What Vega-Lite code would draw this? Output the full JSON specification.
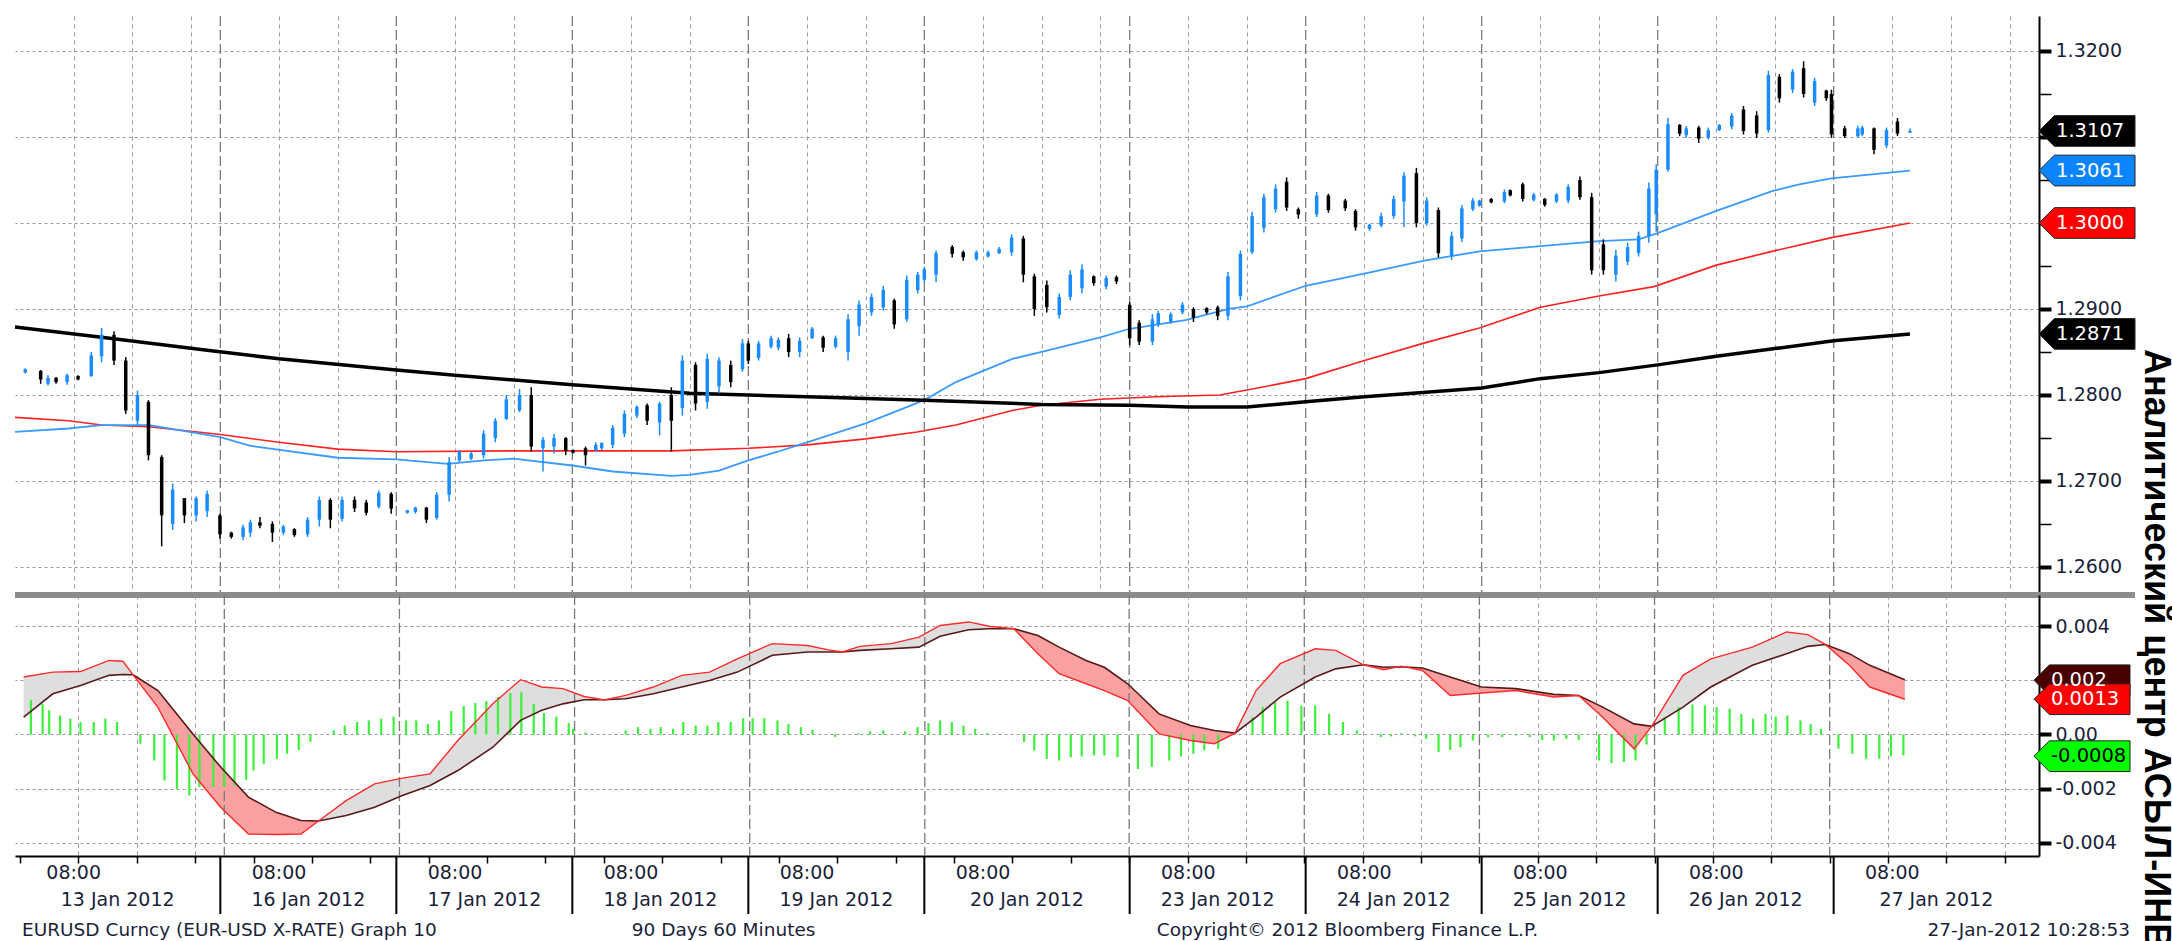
{
"padding": {"left": 8, "top": 15, "right": 0, "bottom": 0},
"autosize": {"type": "pad"},
"background": "white",
"config": {"view": {"stroke": null}, "font": "DejaVu Sans", "axis": {"labelFont": "DejaVu Sans", "labelFontSize": 19, "labelColor": "#1b1f3b", "title": null}},
"spacing": 0,
"bounds": "flush",
"datasets": {
"days": [{"d":"13 Jan 2012","s":0,"e":8,"m":14},{"d":"16 Jan 2012","s":28,"e":36,"m":40},{"d":"17 Jan 2012","s":52,"e":60,"m":64},{"d":"18 Jan 2012","s":76,"e":84,"m":88},{"d":"19 Jan 2012","s":100,"e":108,"m":112},{"d":"20 Jan 2012","s":124,"e":132,"m":138},{"d":"23 Jan 2012","s":152,"e":160,"m":164},{"d":"24 Jan 2012","s":176,"e":184,"m":188},{"d":"25 Jan 2012","s":200,"e":208,"m":212},{"d":"26 Jan 2012","s":224,"e":232,"m":236},{"d":"27 Jan 2012","s":248,"e":256,"m":262}],
"candles": [
{"h":1.4,"o":1.2826,"hi":1.2831,"lo":1.2825,"c":1.2830},{"h":3.5,"o":1.2828,"hi":1.2829,"lo":1.2813,"c":1.2818},{"h":4.5,"o":1.2813,"hi":1.2823,"lo":1.2811,"c":1.2820},{"h":5.6,"o":1.2820,"hi":1.2821,"lo":1.2813,"c":1.2815},{"h":7.1,"o":1.2815,"hi":1.2825,"lo":1.2812,"c":1.2823},{"h":8.6,"o":1.2822,"hi":1.2823,"lo":1.2817,"c":1.2818},{"h":10.4,"o":1.2822,"hi":1.2850,"lo":1.2821,"c":1.2846},{"h":11.8,"o":1.2845,"hi":1.2878,"lo":1.2838,"c":1.2870},{"h":13.5,"o":1.2870,"hi":1.2874,"lo":1.2835,"c":1.2840},{"h":15.1,"o":1.2840,"hi":1.2844,"lo":1.2778,"c":1.2782},{"h":16.7,"o":1.2770,"hi":1.2805,"lo":1.2765,"c":1.2800},{"h":18.2,"o":1.2792,"hi":1.2794,"lo":1.2724,"c":1.2730},{"h":20.0,"o":1.2728,"hi":1.2730,"lo":1.2624,"c":1.2660},{"h":21.5,"o":1.2650,"hi":1.2697,"lo":1.2643,"c":1.2690},{"h":23.1,"o":1.2680,"hi":1.2680,"lo":1.2651,"c":1.2660},{"h":24.7,"o":1.2660,"hi":1.2682,"lo":1.2653,"c":1.2680},{"h":26.2,"o":1.2665,"hi":1.2689,"lo":1.2658,"c":1.2685},{"h":27.95,"o":1.2660,"hi":1.2662,"lo":1.2633,"c":1.2638},{"h":29.5,"o":1.2640,"hi":1.2641,"lo":1.2633,"c":1.2635},{"h":31.1,"o":1.2635,"hi":1.2649,"lo":1.2631,"c":1.2646},{"h":32.1,"o":1.2640,"hi":1.2655,"lo":1.2635,"c":1.2652},{"h":33.4,"o":1.2652,"hi":1.2658,"lo":1.2645,"c":1.2648},{"h":35.1,"o":1.2650,"hi":1.2653,"lo":1.2629,"c":1.2640},{"h":36.6,"o":1.2640,"hi":1.2649,"lo":1.2637,"c":1.2647},{"h":38.1,"o":1.2644,"hi":1.2645,"lo":1.2635,"c":1.2637},{"h":39.9,"o":1.2638,"hi":1.2658,"lo":1.2635,"c":1.2655},{"h":41.5,"o":1.2655,"hi":1.2682,"lo":1.2647,"c":1.2678},{"h":43.0,"o":1.2678,"hi":1.2680,"lo":1.2645,"c":1.2655},{"h":44.6,"o":1.2656,"hi":1.2682,"lo":1.2653,"c":1.2678},{"h":46.3,"o":1.2678,"hi":1.2682,"lo":1.2664,"c":1.2668},{"h":47.9,"o":1.2675,"hi":1.2678,"lo":1.2660,"c":1.2663},{"h":49.6,"o":1.2670,"hi":1.2689,"lo":1.2668,"c":1.2686},{"h":51.3,"o":1.2685,"hi":1.2687,"lo":1.2662,"c":1.2668},{"h":53.5,"o":1.2663,"hi":1.2666,"lo":1.2662,"c":1.2666},{"h":54.6,"o":1.2664,"hi":1.2670,"lo":1.2662,"c":1.2669},{"h":56.1,"o":1.2669,"hi":1.2670,"lo":1.2651,"c":1.2655},{"h":57.5,"o":1.2657,"hi":1.2687,"lo":1.2655,"c":1.2684},{"h":59.2,"o":1.2684,"hi":1.2728,"lo":1.2676,"c":1.2722},{"h":60.6,"o":1.2724,"hi":1.2736,"lo":1.2722,"c":1.2734},{"h":62.2,"o":1.2726,"hi":1.2734,"lo":1.2724,"c":1.2732},{"h":63.9,"o":1.2730,"hi":1.2759,"lo":1.2726,"c":1.2755},{"h":65.5,"o":1.2750,"hi":1.2773,"lo":1.2745,"c":1.2770},{"h":67.0,"o":1.2772,"hi":1.2800,"lo":1.2771,"c":1.2795},{"h":68.8,"o":1.2782,"hi":1.2807,"lo":1.2780,"c":1.2800},{"h":70.4,"o":1.2800,"hi":1.2809,"lo":1.2734,"c":1.2740},{"h":72.0,"o":1.2738,"hi":1.2751,"lo":1.2711,"c":1.2748},{"h":73.5,"o":1.2740,"hi":1.2755,"lo":1.2732,"c":1.2750},{"h":75.1,"o":1.2750,"hi":1.2751,"lo":1.2730,"c":1.2735},{"h":76.1,"o":1.2736,"hi":1.2737,"lo":1.2732,"c":1.2733},{"h":77.8,"o":1.2738,"hi":1.2740,"lo":1.2718,"c":1.2730},{"h":79.2,"o":1.2736,"hi":1.2745,"lo":1.2734,"c":1.2742},{"h":80.0,"o":1.2738,"hi":1.2745,"lo":1.2736,"c":1.2744},{"h":81.5,"o":1.2742,"hi":1.2765,"lo":1.2738,"c":1.2762},{"h":83.1,"o":1.2755,"hi":1.2782,"lo":1.2751,"c":1.2778},{"h":84.8,"o":1.2776,"hi":1.2788,"lo":1.2773,"c":1.2786},{"h":86.2,"o":1.2788,"hi":1.2790,"lo":1.2765,"c":1.2770},{"h":87.9,"o":1.2768,"hi":1.2792,"lo":1.2753,"c":1.2790},{"h":89.5,"o":1.2800,"hi":1.2809,"lo":1.2734,"c":1.2770},{"h":91.0,"o":1.2785,"hi":1.2846,"lo":1.2776,"c":1.2840},{"h":92.8,"o":1.2835,"hi":1.2838,"lo":1.2782,"c":1.2790},{"h":94.4,"o":1.2792,"hi":1.2848,"lo":1.2784,"c":1.2842},{"h":96.0,"o":1.2810,"hi":1.2844,"lo":1.2802,"c":1.2840},{"h":97.6,"o":1.2835,"hi":1.2840,"lo":1.2809,"c":1.2815},{"h":99.2,"o":1.2830,"hi":1.2865,"lo":1.2827,"c":1.2860},{"h":100.0,"o":1.2860,"hi":1.2863,"lo":1.2836,"c":1.2840},
{"h":101.4,"o":1.2843,"hi":1.2863,"lo":1.2840,"c":1.2860},{"h":103.1,"o":1.2856,"hi":1.2869,"lo":1.2854,"c":1.2866},{"h":104.1,"o":1.2855,"hi":1.2867,"lo":1.2852,"c":1.2864},{"h":105.5,"o":1.2866,"hi":1.2871,"lo":1.2844,"c":1.2850},{"h":107.0,"o":1.2850,"hi":1.2867,"lo":1.2844,"c":1.2863},{"h":108.7,"o":1.2866,"hi":1.2879,"lo":1.2865,"c":1.2877},{"h":110.2,"o":1.2867,"hi":1.2869,"lo":1.2850,"c":1.2855},{"h":111.9,"o":1.2856,"hi":1.2869,"lo":1.2854,"c":1.2866},{"h":113.6,"o":1.2850,"hi":1.2894,"lo":1.2840,"c":1.2888},{"h":115.1,"o":1.2880,"hi":1.2910,"lo":1.2869,"c":1.2905},{"h":116.8,"o":1.2896,"hi":1.2918,"lo":1.2892,"c":1.2914},{"h":118.4,"o":1.2902,"hi":1.2927,"lo":1.2898,"c":1.2922},{"h":119.9,"o":1.2910,"hi":1.2912,"lo":1.2877,"c":1.2882},{"h":121.6,"o":1.2888,"hi":1.2939,"lo":1.2885,"c":1.2934},{"h":123.1,"o":1.2922,"hi":1.2943,"lo":1.2918,"c":1.2940},{"h":124.0,"o":1.2934,"hi":1.2949,"lo":1.2931,"c":1.2946},{"h":125.6,"o":1.2940,"hi":1.2968,"lo":1.2931,"c":1.2965},{"h":127.8,"o":1.2972,"hi":1.2974,"lo":1.2960,"c":1.2964},{"h":129.3,"o":1.2966,"hi":1.2968,"lo":1.2956,"c":1.2960},{"h":131.1,"o":1.2958,"hi":1.2968,"lo":1.2956,"c":1.2966},{"h":132.7,"o":1.2961,"hi":1.2968,"lo":1.2960,"c":1.2966},{"h":134.2,"o":1.2965,"hi":1.2972,"lo":1.2964,"c":1.2970},{"h":135.9,"o":1.2966,"hi":1.2987,"lo":1.2962,"c":1.2983},{"h":137.5,"o":1.2982,"hi":1.2985,"lo":1.2931,"c":1.2940},{"h":139.0,"o":1.2938,"hi":1.2941,"lo":1.2892,"c":1.2900},{"h":140.7,"o":1.2928,"hi":1.2933,"lo":1.2896,"c":1.2902},{"h":142.4,"o":1.2893,"hi":1.2918,"lo":1.2889,"c":1.2914},{"h":143.9,"o":1.2914,"hi":1.2945,"lo":1.2910,"c":1.2940},{"h":145.5,"o":1.2924,"hi":1.2952,"lo":1.2918,"c":1.2946},{"h":147.1,"o":1.2938,"hi":1.2939,"lo":1.2927,"c":1.2930},{"h":148.8,"o":1.2926,"hi":1.2939,"lo":1.2923,"c":1.2936},{"h":150.2,"o":1.2937,"hi":1.2939,"lo":1.2929,"c":1.2932},{"h":152.0,"o":1.2905,"hi":1.2908,"lo":1.2858,"c":1.2866},{"h":153.3,"o":1.2884,"hi":1.2887,"lo":1.2858,"c":1.2862},{"h":155.1,"o":1.2862,"hi":1.2894,"lo":1.2858,"c":1.2888},{"h":155.9,"o":1.2882,"hi":1.2898,"lo":1.2879,"c":1.2895},{"h":157.6,"o":1.2885,"hi":1.2896,"lo":1.2883,"c":1.2894},{"h":159.2,"o":1.2896,"hi":1.2908,"lo":1.2894,"c":1.2905},{"h":160.7,"o":1.2900,"hi":1.2902,"lo":1.2885,"c":1.2890},{"h":162.5,"o":1.2901,"hi":1.2902,"lo":1.2894,"c":1.2896},{"h":164.0,"o":1.2902,"hi":1.2904,"lo":1.2887,"c":1.2892},{"h":165.4,"o":1.2892,"hi":1.2943,"lo":1.2887,"c":1.2938},{"h":167.1,"o":1.2915,"hi":1.2968,"lo":1.2910,"c":1.2964},{"h":168.7,"o":1.2966,"hi":1.3013,"lo":1.2964,"c":1.3008},{"h":170.3,"o":1.2994,"hi":1.3034,"lo":1.2989,"c":1.3030},{"h":171.9,"o":1.3016,"hi":1.3045,"lo":1.3012,"c":1.3040},{"h":173.4,"o":1.3048,"hi":1.3053,"lo":1.3014,"c":1.3018},{"h":175.0,"o":1.3016,"hi":1.3018,"lo":1.3005,"c":1.3010},{"h":177.5,"o":1.3010,"hi":1.3036,"lo":1.3007,"c":1.3032},{"h":179.1,"o":1.3032,"hi":1.3034,"lo":1.3012,"c":1.3015},{"h":181.4,"o":1.3026,"hi":1.3028,"lo":1.3014,"c":1.3017},{"h":182.8,"o":1.3014,"hi":1.3016,"lo":1.2991,"c":1.2995},{"h":184.7,"o":1.2993,"hi":1.2999,"lo":1.2991,"c":1.2998},{"h":186.3,"o":1.2997,"hi":1.3012,"lo":1.2995,"c":1.3008},{"h":188.0,"o":1.3008,"hi":1.3032,"lo":1.3005,"c":1.3028},{"h":189.4,"o":1.3025,"hi":1.3059,"lo":1.2995,"c":1.3055},{"h":191.1,"o":1.3058,"hi":1.3064,"lo":1.2995,"c":1.3000},{"h":192.5,"o":1.3000,"hi":1.3030,"lo":1.2997,"c":1.3026},{"h":194.1,"o":1.3015,"hi":1.3018,"lo":1.2960,"c":1.2965},
{"h":195.9,"o":1.2962,"hi":1.2990,"lo":1.2957,"c":1.2985},{"h":197.3,"o":1.2982,"hi":1.3021,"lo":1.2978,"c":1.3017},{"h":198.8,"o":1.3016,"hi":1.3029,"lo":1.3014,"c":1.3026},{"h":199.7,"o":1.3020,"hi":1.3027,"lo":1.3019,"c":1.3026},{"h":201.3,"o":1.3028,"hi":1.3029,"lo":1.3023,"c":1.3024},{"h":203.1,"o":1.3025,"hi":1.3039,"lo":1.3023,"c":1.3036},{"h":203.9,"o":1.3038,"hi":1.3039,"lo":1.3031,"c":1.3032},{"h":205.6,"o":1.3045,"hi":1.3047,"lo":1.3025,"c":1.3028},{"h":207.1,"o":1.3027,"hi":1.3035,"lo":1.3025,"c":1.3033},{"h":208.6,"o":1.3028,"hi":1.3029,"lo":1.3019,"c":1.3021},{"h":210.2,"o":1.3025,"hi":1.3035,"lo":1.3023,"c":1.3033},{"h":211.8,"o":1.3026,"hi":1.3045,"lo":1.3023,"c":1.3042},{"h":213.4,"o":1.3050,"hi":1.3054,"lo":1.3027,"c":1.3030},{"h":215.0,"o":1.3030,"hi":1.3035,"lo":1.2940,"c":1.2945},{"h":216.6,"o":1.2975,"hi":1.2981,"lo":1.2940,"c":1.2945},{"h":218.3,"o":1.2940,"hi":1.2969,"lo":1.2932,"c":1.2962},{"h":219.9,"o":1.2955,"hi":1.2977,"lo":1.2951,"c":1.2972},{"h":221.4,"o":1.2965,"hi":1.2990,"lo":1.2961,"c":1.2985},{"h":222.8,"o":1.2985,"hi":1.3047,"lo":1.2977,"c":1.3040},{"h":223.8,"o":1.3010,"hi":1.3068,"lo":1.2990,"c":1.3062},{"h":225.4,"o":1.3062,"hi":1.3122,"lo":1.3060,"c":1.3115},{"h":227.0,"o":1.3114,"hi":1.3115,"lo":1.3101,"c":1.3104},{"h":227.9,"o":1.3102,"hi":1.3113,"lo":1.3099,"c":1.3110},{"h":229.6,"o":1.3111,"hi":1.3113,"lo":1.3093,"c":1.3098},{"h":230.9,"o":1.3099,"hi":1.3111,"lo":1.3097,"c":1.3108},{"h":232.4,"o":1.3108,"hi":1.3115,"lo":1.3107,"c":1.3114},{"h":234.1,"o":1.3112,"hi":1.3128,"lo":1.3109,"c":1.3125},{"h":235.7,"o":1.3132,"hi":1.3136,"lo":1.3103,"c":1.3107},{"h":237.5,"o":1.3125,"hi":1.3130,"lo":1.3099,"c":1.3104},{"h":239.1,"o":1.3108,"hi":1.3177,"lo":1.3105,"c":1.3172},{"h":240.6,"o":1.3170,"hi":1.3173,"lo":1.3140,"c":1.3145},{"h":242.4,"o":1.3155,"hi":1.3179,"lo":1.3151,"c":1.3176},{"h":243.9,"o":1.3180,"hi":1.3188,"lo":1.3146,"c":1.3150},{"h":245.4,"o":1.3140,"hi":1.3169,"lo":1.3136,"c":1.3165},{"h":247.0,"o":1.3154,"hi":1.3155,"lo":1.3142,"c":1.3145},{"h":247.7,"o":1.3150,"hi":1.3155,"lo":1.3099,"c":1.3103},{"h":249.5,"o":1.3110,"hi":1.3113,"lo":1.3099,"c":1.3101},{"h":251.3,"o":1.3101,"hi":1.3113,"lo":1.3099,"c":1.3110},{"h":251.9,"o":1.3103,"hi":1.3113,"lo":1.3101,"c":1.3111},{"h":253.5,"o":1.3110,"hi":1.3111,"lo":1.3080,"c":1.3085},{"h":255.2,"o":1.3090,"hi":1.3111,"lo":1.3087,"c":1.3108},{"h":256.7,"o":1.3118,"hi":1.3122,"lo":1.3101,"c":1.3104},{"h":258.4,"o":1.3105,"hi":1.3110,"lo":1.3105,"c":1.3107}
],
"ma": [
{"s":"k","h":0,"v":1.2879},{"s":"k","h":11.8,"v":1.2867},{"s":"k","h":26.2,"v":1.2852},{"s":"k","h":36,"v":1.2842},{"s":"k","h":52,"v":1.2829},{"s":"k","h":60,"v":1.2823},{"s":"k","h":76,"v":1.2812},{"s":"k","h":84,"v":1.2807},{"s":"k","h":92,"v":1.2802},{"s":"k","h":100,"v":1.2800},{"s":"k","h":108,"v":1.2798},{"s":"k","h":124,"v":1.2794},{"s":"k","h":140,"v":1.2789},{"s":"k","h":152,"v":1.2788},{"s":"k","h":160,"v":1.2786},{"s":"k","h":168,"v":1.2786},{"s":"k","h":176,"v":1.2792},{"s":"k","h":184,"v":1.2798},{"s":"k","h":192,"v":1.2803},{"s":"k","h":200,"v":1.2808},{"s":"k","h":208,"v":1.2819},{"s":"k","h":216,"v":1.2826},{"s":"k","h":224,"v":1.2835},{"s":"k","h":232,"v":1.2845},{"s":"k","h":240,"v":1.2854},{"s":"k","h":248,"v":1.2863},{"s":"k","h":258.4,"v":1.2871},
{"s":"r","h":0,"v":1.2774},{"s":"r","h":7.3,"v":1.2770},{"s":"r","h":11.8,"v":1.2765},{"s":"r","h":18.3,"v":1.2763},{"s":"r","h":28,"v":1.2754},{"s":"r","h":36,"v":1.2745},{"s":"r","h":44,"v":1.2737},{"s":"r","h":52,"v":1.2734},{"s":"r","h":68,"v":1.2735},{"s":"r","h":76,"v":1.2735},{"s":"r","h":89.5,"v":1.2735},{"s":"r","h":100,"v":1.2738},{"s":"r","h":108,"v":1.2742},{"s":"r","h":116,"v":1.2749},{"s":"r","h":123,"v":1.2757},{"s":"r","h":128.3,"v":1.2765},{"s":"r","h":136,"v":1.2782},{"s":"r","h":140,"v":1.2788},{"s":"r","h":148,"v":1.2795},{"s":"r","h":155.7,"v":1.2798},{"s":"r","h":164.3,"v":1.2800},{"s":"r","h":170,"v":1.2809},{"s":"r","h":176,"v":1.2819},{"s":"r","h":184,"v":1.2840},{"s":"r","h":192,"v":1.2860},{"s":"r","h":199.7,"v":1.2878},{"s":"r","h":208,"v":1.2902},{"s":"r","h":216,"v":1.2915},{"s":"r","h":223.5,"v":1.2926},{"s":"r","h":232,"v":1.2951},{"s":"r","h":239.6,"v":1.2967},{"s":"r","h":247.7,"v":1.2983},{"s":"r","h":258.4,"v":1.3000},
{"s":"b","h":0,"v":1.2757},{"s":"b","h":7.3,"v":1.2761},{"s":"b","h":11.8,"v":1.2765},{"s":"b","h":18.3,"v":1.2765},{"s":"b","h":28,"v":1.2751},{"s":"b","h":32,"v":1.2741},{"s":"b","h":44,"v":1.2727},{"s":"b","h":52,"v":1.2725},{"s":"b","h":59,"v":1.2720},{"s":"b","h":64,"v":1.2724},{"s":"b","h":68,"v":1.2726},{"s":"b","h":76,"v":1.2718},{"s":"b","h":81.5,"v":1.2711},{"s":"b","h":89.5,"v":1.2706},{"s":"b","h":92,"v":1.2707},{"s":"b","h":96,"v":1.2712},{"s":"b","h":100,"v":1.2724},{"s":"b","h":104,"v":1.2734},{"s":"b","h":108,"v":1.2745},{"s":"b","h":116,"v":1.2767},{"s":"b","h":124,"v":1.2794},{"s":"b","h":128.3,"v":1.2815},{"s":"b","h":136,"v":1.2842},{"s":"b","h":140,"v":1.2850},{"s":"b","h":148,"v":1.2867},{"s":"b","h":152,"v":1.2877},{"s":"b","h":159.6,"v":1.2887},{"s":"b","h":165.5,"v":1.2900},{"s":"b","h":168,"v":1.2903},{"s":"b","h":176,"v":1.2927},{"s":"b","h":184,"v":1.2941},{"s":"b","h":192,"v":1.2956},{"s":"b","h":199.7,"v":1.2967},{"s":"b","h":208,"v":1.2973},{"s":"b","h":216,"v":1.2979},{"s":"b","h":221.4,"v":1.2981},{"s":"b","h":223.9,"v":1.2988},{"s":"b","h":232,"v":1.3014},{"s":"b","h":239.6,"v":1.3037},{"s":"b","h":243.3,"v":1.3045},{"s":"b","h":247.7,"v":1.3052},{"s":"b","h":258.4,"v":1.3061}
],
"macd": [
{"g":1,"d":"up","h":0.5,"m":0.00212,"s":0.00064},{"g":1,"d":"up","h":4.5,"m":0.0023,"s":0.0015},{"g":1,"d":"up","h":8.3,"m":0.00232,"s":0.00181},{"g":1,"d":"up","h":12.2,"m":0.00273,"s":0.00218},{"g":1,"d":"up","h":14.1,"m":0.0027,"s":0.00221},{"g":1,"d":"up","h":15.5,"m":0.0022,"s":0.0022},
{"g":2,"d":"dn","h":15.5,"m":0.0022,"s":0.0022},{"g":2,"d":"dn","h":18.9,"m":0.001,"s":0.00162},{"g":2,"d":"dn","h":23.7,"m":-0.00145,"s":0.00002},{"g":2,"d":"dn","h":27.5,"m":-0.00268,"s":-0.0012},{"g":2,"d":"dn","h":31.3,"m":-0.00367,"s":-0.00231},{"g":2,"d":"dn","h":35.1,"m":-0.00369,"s":-0.00287},{"g":2,"d":"dn","h":38.5,"m":-0.00367,"s":-0.00317},{"g":2,"d":"dn","h":40.9,"m":-0.00319,"s":-0.00319},
{"g":3,"d":"up","h":40.9,"m":-0.00319,"s":-0.00319},{"g":3,"d":"up","h":44.7,"m":-0.00244,"s":-0.00299},{"g":3,"d":"up","h":48.6,"m":-0.00182,"s":-0.00268},{"g":3,"d":"up","h":52.4,"m":-0.00161,"s":-0.00225},{"g":3,"d":"up","h":56.2,"m":-0.00145,"s":-0.00188},{"g":3,"d":"up","h":60.0,"m":-0.00022,"s":-0.00133},{"g":3,"d":"up","h":64.8,"m":0.00113,"s":-0.00047},{"g":3,"d":"up","h":68.6,"m":0.00202,"s":0.00052},{"g":3,"d":"up","h":71.5,"m":0.00175,"s":0.00089},{"g":3,"d":"up","h":74.4,"m":0.00169,"s":0.00113},{"g":3,"d":"up","h":77.3,"m":0.0014,"s":0.00128},{"g":3,"d":"up","h":80.1,"m":0.00127,"s":0.00128},{"g":3,"d":"up","h":83.0,"m":0.00144,"s":0.00132},{"g":3,"d":"up","h":86.8,"m":0.00175,"s":0.0015},{"g":3,"d":"up","h":90.7,"m":0.00218,"s":0.00175},{"g":3,"d":"up","h":94.5,"m":0.0023,"s":0.00199},{"g":3,"d":"up","h":98.3,"m":0.00279,"s":0.0023},{"g":3,"d":"up","h":103.1,"m":0.00335,"s":0.00292},{"g":3,"d":"up","h":107.9,"m":0.00328,"s":0.00304},{"g":3,"d":"up","h":110.8,"m":0.00312,"s":0.00304},{"g":3,"d":"up","h":112.7,"m":0.00304,"s":0.00304},{"g":3,"d":"up","h":115.1,"m":0.00325,"s":0.0031},{"g":3,"d":"up","h":119.4,"m":0.00335,"s":0.00316},{"g":3,"d":"up","h":123.2,"m":0.00359,"s":0.00322},{"g":3,"d":"up","h":126.1,"m":0.00402,"s":0.00362},{"g":3,"d":"up","h":130.0,"m":0.00415,"s":0.00386},{"g":3,"d":"up","h":132.8,"m":0.00399,"s":0.0039},{"g":3,"d":"up","h":136.2,"m":0.0039,"s":0.0039},
{"g":4,"d":"dn","h":136.2,"m":0.0039,"s":0.0039},{"g":4,"d":"dn","h":139.5,"m":0.00298,"s":0.00365},{"g":4,"d":"dn","h":142.4,"m":0.00224,"s":0.00322},{"g":4,"d":"dn","h":146.1,"m":0.00187,"s":0.00273},{"g":4,"d":"dn","h":148.6,"m":0.00162,"s":0.00248},{"g":4,"d":"dn","h":151.8,"m":0.00125,"s":0.00187},{"g":4,"d":"dn","h":156.1,"m":0.00002,"s":0.00076},{"g":4,"d":"dn","h":160.4,"m":-0.00022,"s":0.00033},{"g":4,"d":"dn","h":163.7,"m":-0.00034,"s":0.00015},{"g":4,"d":"dn","h":166.5,"m":0.00005,"s":0.00005},
{"g":5,"d":"up","h":166.5,"m":0.00005,"s":0.00005},{"g":5,"d":"up","h":169.4,"m":0.00162,"s":0.00064},{"g":5,"d":"up","h":172.7,"m":0.00261,"s":0.00138},{"g":5,"d":"up","h":177.5,"m":0.00316,"s":0.00212},{"g":5,"d":"up","h":180.3,"m":0.0031,"s":0.00242},{"g":5,"d":"up","h":184.1,"m":0.00257,"s":0.00257},
{"g":6,"d":"dn","h":184.1,"m":0.00257,"s":0.00257},{"g":6,"d":"dn","h":186.9,"m":0.00239,"s":0.00248},{"g":6,"d":"dn","h":189.3,"m":0.00252,"s":0.0025},{"g":6,"d":"dn","h":192.2,"m":0.00236,"s":0.00245},{"g":6,"d":"dn","h":196.0,"m":0.00144,"s":0.00212},{"g":6,"d":"dn","h":200.3,"m":0.00153,"s":0.00175},{"g":6,"d":"dn","h":205.0,"m":0.00162,"s":0.00169},{"g":6,"d":"dn","h":210.2,"m":0.00138,"s":0.00148},{"g":6,"d":"dn","h":213.6,"m":0.00144,"s":0.00144},{"g":6,"d":"dn","h":216.9,"m":0.00064,"s":0.00101},{"g":6,"d":"dn","h":221.2,"m":-0.00053,"s":0.00039},{"g":6,"d":"dn","h":223.6,"m":0.0003,"s":0.0003},
{"g":7,"d":"up","h":223.6,"m":0.0003,"s":0.0003},{"g":7,"d":"up","h":227.9,"m":0.00218,"s":0.00101},{"g":7,"d":"up","h":231.7,"m":0.00279,"s":0.00175},{"g":7,"d":"up","h":237.4,"m":0.00322,"s":0.00255},{"g":7,"d":"up","h":242.1,"m":0.00378,"s":0.00298},{"g":7,"d":"up","h":245.0,"m":0.00368,"s":0.00325},{"g":7,"d":"up","h":247.4,"m":0.00332,"s":0.00332},
{"g":8,"d":"dn","h":247.4,"m":0.00332,"s":0.00332},{"g":8,"d":"dn","h":250.7,"m":0.00255,"s":0.00298},{"g":8,"d":"dn","h":253.5,"m":0.00175,"s":0.00255},{"g":8,"d":"dn","h":258.3,"m":0.0013,"s":0.00202}
],
"hist": [
{"h":1.5,"v":0.00128},{"h":3.1,"v":0.00113},{"h":4.0,"v":0.00089},{"h":5.5,"v":0.0007},{"h":6.9,"v":0.00058},{"h":8.3,"v":0.00046},{"h":10.1,"v":0.00046},{"h":11.7,"v":0.00058},{"h":13.3,"v":0.00046},{"h":16.5,"v":-0.00034},{"h":18.4,"v":-0.00096},{"h":19.8,"v":-0.0017},{"h":21.5,"v":-0.002},{"h":23.2,"v":-0.00225},{"h":24.6,"v":-0.00194},{"h":26.5,"v":-0.00194},{"h":28.0,"v":-0.00194},{"h":29.4,"v":-0.00188},{"h":31.0,"v":-0.00167},{"h":32.0,"v":-0.00133},{"h":33.4,"v":-0.00108},{"h":35.2,"v":-0.0009},{"h":36.6,"v":-0.00071},{"h":38.2,"v":-0.00057},{"h":39.8,"v":-0.00027},{"h":43.0,"v":0.00015},{"h":44.5,"v":0.00033},{"h":46.2,"v":0.00046},{"h":47.8,"v":0.00052},{"h":49.5,"v":0.00058},{"h":51.2,"v":0.00066},{"h":52.9,"v":0.00052},{"h":54.3,"v":0.00052},{"h":55.9,"v":0.00039},{"h":57.4,"v":0.00052},{"h":59.1,"v":0.00086},{"h":60.8,"v":0.00105},{"h":62.4,"v":0.00116},{"h":63.9,"v":0.00123},{"h":65.5,"v":0.00138},{"h":67.2,"v":0.00153},{"h":68.7,"v":0.00156},{"h":70.4,"v":0.00113},{"h":71.8,"v":0.00079},{"h":73.5,"v":0.00066},{"h":75.2,"v":0.00042},{"h":75.8,"v":0.00021},{"h":77.5,"v":0.00007},{"h":83.0,"v":0.00015},{"h":84.7,"v":0.00027},{"h":86.4,"v":0.00021},{"h":87.8,"v":0.00027},{"h":89.5,"v":0.00021},{"h":90.9,"v":0.00046},{"h":92.6,"v":0.00033},{"h":94.2,"v":0.00033},{"h":95.7,"v":0.00046},{"h":97.4,"v":0.00046},{"h":99.1,"v":0.0006},{"h":100.4,"v":0.0006},{"h":102.0,"v":0.0006},{"h":103.8,"v":0.00052},{"h":105.3,"v":0.00039},{"h":107.0,"v":0.00027},{"h":108.6,"v":0.00017},{"h":111.7,"v":-0.00009},{"h":114.9,"v":0.00005},{"h":116.5,"v":0.00012},{"h":118.3,"v":0.00015},{"h":121.3,"v":0.00012},{"h":123.0,"v":0.00027},{"h":124.5,"v":0.00042},{"h":126.1,"v":0.00052},{"h":127.7,"v":0.00046},{"h":129.3,"v":0.00033},{"h":130.9,"v":0.00021},{"h":132.5,"v":0.00005},{"h":137.6,"v":-0.00028},{"h":139.0,"v":-0.00059},{"h":140.7,"v":-0.0009},{"h":142.4,"v":-0.00096},{"h":144.0,"v":-0.00084},{"h":145.5,"v":-0.00081},{"h":147.2,"v":-0.00077},{"h":148.6,"v":-0.00077},{"h":150.4,"v":-0.00084},{"h":153.2,"v":-0.00127},{"h":155.1,"v":-0.0012},{"h":157.5,"v":-0.00096},{"h":159.1,"v":-0.00081},{"h":160.8,"v":-0.00071},{"h":162.3,"v":-0.00059},{"h":164.2,"v":-0.00053},{"h":168.9,"v":0.00064},{"h":170.3,"v":0.00101},{"h":172.0,"v":0.00119},{"h":173.7,"v":0.00125},{"h":175.6,"v":0.00107},{"h":177.5,"v":0.00107},{"h":179.4,"v":0.00076},{"h":181.3,"v":0.00046},{"h":183.2,"v":0.00015},{"h":186.5,"v":-0.0001},{"h":187.9,"v":-0.00007},{"h":189.3,"v":0.00005},{"h":191.2,"v":-0.00007},{"h":192.7,"v":-0.00016},{"h":194.4,"v":-0.00065},{"h":196.0,"v":-0.00057},{"h":197.4,"v":-0.00047},{"h":199.1,"v":-0.00022},{"h":201.2,"v":-0.0001},{"h":203.1,"v":-0.0001},{"h":205.0,"v":-0.00004},{"h":206.9,"v":-0.0001},{"h":208.6,"v":-0.0002},{"h":210.2,"v":-0.00022},{"h":211.9,"v":-0.00016},{"h":213.6,"v":-0.0002},{"h":216.4,"v":-0.00096},{"h":218.1,"v":-0.00106},{"h":219.8,"v":-0.00102},{"h":221.4,"v":-0.00096},{"h":222.9,"v":-0.00037},{"h":225.4,"v":0.00064},{"h":227.3,"v":0.00101},{"h":229.2,"v":0.00111},{"h":230.9,"v":0.00107},{"h":232.5,"v":0.00101},{"h":234.3,"v":0.00095},{"h":235.9,"v":0.00076},{"h":237.5,"v":0.00058},{"h":239.2,"v":0.00076},{"h":240.6,"v":0.00066},{"h":242.2,"v":0.0007},{"h":244.0,"v":0.00052},{"h":245.4,"v":0.00039},{"h":246.8,"v":0.00021},{"h":249.2,"v":-0.00052},{"h":251.1,"v":-0.00071},{"h":253.0,"v":-0.0009},{"h":254.8,"v":-0.0009},{"h":256.4,"v":-0.00081},{"h":258.1,"v":-0.00077}
],
"tagsTop": [{"k":"ma200","v":1.2871,"t":"1.2871"},{"k":"ma100","v":1.3000,"t":"1.3000"},{"k":"ma50","v":1.3061,"t":"1.3061"},{"k":"last","v":1.3107,"t":"1.3107"}],
"tagsBot": [{"k":"sig","v":0.002,"t":"0.002"},{"k":"macd","v":0.0013,"t":"0.0013"},{"k":"hist","v":-0.0008,"t":"-0.0008"}]
},
"vconcat": [
{
"width": 2024, "height": 579,
"resolve": {"scale": {"fill": "independent", "color": "independent"}},
"layer": [
{"data": {"name": "ma"}, "transform": [{"filter": "datum.s == 'r'"}], "mark": {"type": "line", "color": "#ff2020", "strokeWidth": 1.6},
 "encoding": {"x": {"field": "h", "type": "quantitative", "scale": {"domain": [0, 276], "nice": false, "zero": false},
   "axis": {"orient": "bottom", "values": [8,16,24,36,44,60,68,84,92,108,116,132,140,148,160,168,184,192,208,216,232,240,256,264,272], "grid": true, "gridColor": "#9a9a9a", "gridDash": [4,4], "gridWidth": 1, "labels": false, "ticks": false, "domain": false, "title": null}},
  "y": {"field": "v", "type": "quantitative", "scale": {"domain": [1.25674, 1.32407], "nice": false, "zero": false},
   "axis": {"orient": "right", "values": [1.26,1.265,1.27,1.275,1.28,1.285,1.29,1.295,1.30,1.305,1.31,1.315,1.32],
    "labelExpr": "abs(datum.value*100 - round(datum.value*100)) < 0.01 ? format(datum.value, '.4f') : ''",
    "grid": true, "gridColor": "#9a9a9a", "gridDash": [3,3],
    "gridOpacity": {"condition": {"test": "abs(datum.value*100 - round(datum.value*100)) < 0.01", "value": 1}, "value": 0},
    "tickSize": 12, "tickColor": "#000000",
    "tickWidth": {"condition": {"test": "abs(datum.value*100 - round(datum.value*100)) < 0.01", "value": 4}, "value": 1.5},
    "domain": true, "domainColor": "#000000", "domainWidth": 2, "labelPadding": 4, "labelOverlap": false, "title": null}}}},
{"data": {"name": "days"}, "transform": [{"filter": "datum.s > 0"}], "mark": {"type": "rule", "color": "#7a7a7a", "strokeWidth": 1.3, "strokeDash": [10,4]},
 "encoding": {"x": {"field": "s", "type": "quantitative", "scale": {"domain": [0, 276], "nice": false, "zero": false}}}},
{"data": {"name": "ma"}, "transform": [{"filter": "datum.s == 'b'"}], "mark": {"type": "line", "color": "#3a9bff", "strokeWidth": 1.8},
 "encoding": {"x": {"field": "h", "type": "quantitative", "scale": {"domain": [0, 276], "nice": false, "zero": false}},
  "y": {"field": "v", "type": "quantitative", "scale": {"domain": [1.25674, 1.32407], "nice": false, "zero": false}}}},
{"data": {"name": "ma"}, "transform": [{"filter": "datum.s == 'k'"}], "mark": {"type": "line", "color": "#000000", "strokeWidth": 3.5},
 "encoding": {"x": {"field": "h", "type": "quantitative", "scale": {"domain": [0, 276], "nice": false, "zero": false}},
  "y": {"field": "v", "type": "quantitative", "scale": {"domain": [1.25674, 1.32407], "nice": false, "zero": false}}}},
{"data": {"name": "candles"}, "mark": {"type": "rule", "strokeWidth": 1.5},
 "encoding": {"x": {"field": "h", "type": "quantitative", "scale": {"domain": [0, 276], "nice": false, "zero": false}},
  "y": {"field": "lo", "type": "quantitative", "scale": {"domain": [1.25674, 1.32407], "nice": false, "zero": false}},
  "y2": {"field": "hi"},
  "color": {"condition": {"test": "datum.c >= datum.o", "value": "#1a8cff"}, "value": "#000000"}}},
{"data": {"name": "candles"}, "mark": {"type": "rule", "strokeWidth": 3.5},
 "encoding": {"x": {"field": "h", "type": "quantitative", "scale": {"domain": [0, 276], "nice": false, "zero": false}},
  "y": {"field": "o", "type": "quantitative", "scale": {"domain": [1.25674, 1.32407], "nice": false, "zero": false}},
  "y2": {"field": "c"},
  "color": {"condition": {"test": "datum.c >= datum.o", "value": "#1a8cff"}, "value": "#000000"}}},
{"data": {"values": [{}]}, "mark": {"type": "rule", "strokeWidth": 6, "color": "#8c8c8c"},
 "encoding": {"y": {"datum": 1.25674, "type": "quantitative", "scale": {"domain": [1.25674, 1.32407], "nice": false, "zero": false}}}},
{"data": {"values": [{}]}, "mark": {"type": "point", "shape": "M0,-0.031L1,-0.031L1,0.031L0,0.031Z", "size": 36864, "filled": true, "opacity": 1, "color": "#8c8c8c", "strokeWidth": 0},
 "encoding": {"x": {"datum": 276, "type": "quantitative", "scale": {"domain": [0, 276], "nice": false, "zero": false}},
  "y": {"datum": 1.25674, "type": "quantitative", "scale": {"domain": [1.25674, 1.32407], "nice": false, "zero": false}}}},
{"data": {"name": "tagsTop"}, "mark": {"type": "point", "shape": "M0,0L0.16,-0.16L1,-0.16L1,0.16L0.16,0.16Z", "size": 36864, "filled": true, "opacity": 1, "stroke": "#222222", "strokeWidth": 1},
 "encoding": {"x": {"datum": 276, "type": "quantitative", "scale": {"domain": [0, 276], "nice": false, "zero": false}},
  "y": {"field": "v", "type": "quantitative", "scale": {"domain": [1.25674, 1.32407], "nice": false, "zero": false}},
  "fill": {"field": "k", "type": "nominal", "scale": {"domain": ["last","ma50","ma100","ma200"], "range": ["#000000","#0a84ff","#ff0000","#000000"]}, "legend": null}}},
{"data": {"name": "tagsTop"}, "mark": {"type": "text", "align": "left", "baseline": "middle", "dx": 17, "fontSize": 19.5, "color": "#ffffff", "font": "DejaVu Sans"},
 "encoding": {"x": {"datum": 276, "type": "quantitative", "scale": {"domain": [0, 276], "nice": false, "zero": false}},
  "y": {"field": "v", "type": "quantitative", "scale": {"domain": [1.25674, 1.32407], "nice": false, "zero": false}},
  "text": {"field": "t", "type": "nominal"}}},
{"data": {"values": [{}]}, "mark": {"type": "text", "angle": 90, "align": "left", "baseline": "middle", "fontSize": 36, "fontWeight": "bold", "color": "#000000", "font": "Liberation Sans", "text": "Аналитический центр АСЫЛ-ИНВЕСТ"},
 "encoding": {"x": {"datum": 291.9, "type": "quantitative", "scale": {"domain": [0, 276], "nice": false, "zero": false}},
  "y": {"datum": 1.28535, "type": "quantitative", "scale": {"domain": [1.25674, 1.32407], "nice": false, "zero": false}}}}
]
},
{
"width": 2024, "height": 261,
"resolve": {"scale": {"fill": "independent", "color": "independent"}},
"layer": [
{"data": {"name": "macd"}, "mark": {"type": "area", "opacity": 1},
 "encoding": {"x": {"field": "h", "type": "quantitative", "scale": {"domain": [0, 276], "nice": false, "zero": false},
   "axis": {"orient": "bottom", "values": [0,4,8,12,16,20,24,28,32,36,40,44,48,52,56,60,64,68,72,76,80,84,88,92,96,100,104,108,112,116,120,124,128,132,136,140,144,148,152,156,160,164,168,172,176,180,184,188,192,196,200,204,208,212,216,220,224,228,232,236,240,244,248,252,256,260,264,268,272,276],
    "labels": false,
    "tickSize": 7, "tickWidth": 1.5, "tickColor": "#000000", "domain": true, "domainColor": "#000000", "domainWidth": 2,
    "grid": true, "gridColor": "#9a9a9a", "gridDash": [4,4],
    "gridOpacity": {"condition": {"test": "indexof([8,16,24,36,44,60,68,84,92,108,116,132,140,148,160,168,184,192,208,216,232,240,256,264,272], datum.value) >= 0", "value": 1}, "value": 0},
    "title": null}},
  "y": {"field": "m", "type": "quantitative", "scale": {"domain": [-0.00448, 0.005143], "nice": false, "zero": false},
   "axis": {"orient": "right", "values": [-0.004,-0.003,-0.002,-0.001,0,0.001,0.002,0.003,0.004],
    "labelExpr": "abs(datum.value*500 - round(datum.value*500)) > 0.01 ? '' : (abs(datum.value) < 0.00001 ? '0.00' : replace(format(datum.value, '.3f'), '\u2212', '-'))",
    "grid": true, "gridColor": "#9a9a9a", "gridDash": [3,3],
    "gridOpacity": {"condition": {"test": "abs(datum.value*500 - round(datum.value*500)) < 0.01", "value": 1}, "value": 0},
    "tickSize": 12, "tickColor": "#000000",
    "tickWidth": {"condition": {"test": "abs(datum.value*500 - round(datum.value*500)) < 0.01", "value": 4}, "value": 1.5},
    "domain": true, "domainColor": "#000000", "domainWidth": 2, "labelPadding": 4, "labelOverlap": false, "title": null}},
  "y2": {"field": "s"},
  "detail": {"field": "g", "type": "nominal"},
  "fill": {"field": "d", "type": "nominal", "scale": {"domain": ["up","dn"], "range": ["#dedede","#f9a0a0"]}, "legend": null}}},
{"data": {"name": "days"}, "transform": [{"filter": "datum.s > 0"}], "mark": {"type": "rule", "color": "#7a7a7a", "strokeWidth": 1.3, "strokeDash": [10,4]},
 "encoding": {"x": {"field": "s", "type": "quantitative", "scale": {"domain": [0, 276], "nice": false, "zero": false}}}},
{"data": {"name": "hist"}, "mark": {"type": "bar", "width": 2.2, "color": "#3cf03c"},
 "encoding": {"x": {"field": "h", "type": "quantitative", "scale": {"domain": [0, 276], "nice": false, "zero": false}},
  "y": {"field": "v", "type": "quantitative", "scale": {"domain": [-0.00448, 0.005143], "nice": false, "zero": false}}}},
{"data": {"name": "macd"}, "mark": {"type": "line", "color": "#5a1818", "strokeWidth": 1.6},
 "encoding": {"x": {"field": "h", "type": "quantitative", "scale": {"domain": [0, 276], "nice": false, "zero": false}},
  "y": {"field": "s", "type": "quantitative", "scale": {"domain": [-0.00448, 0.005143], "nice": false, "zero": false}}}},
{"data": {"name": "macd"}, "mark": {"type": "line", "color": "#ff2a2a", "strokeWidth": 1.4},
 "encoding": {"x": {"field": "h", "type": "quantitative", "scale": {"domain": [0, 276], "nice": false, "zero": false}},
  "y": {"field": "m", "type": "quantitative", "scale": {"domain": [-0.00448, 0.005143], "nice": false, "zero": false}}}},
{"data": {"name": "tagsBot"}, "mark": {"type": "point", "shape": "M0,0L0.16,-0.16L1,-0.16L1,0.16L0.16,0.16Z", "size": 36864, "filled": true, "opacity": 1, "stroke": "#222222", "strokeWidth": 1},
 "encoding": {"x": {"datum": 276, "type": "quantitative", "scale": {"domain": [0, 276], "nice": false, "zero": false}},
  "y": {"field": "v", "type": "quantitative", "scale": {"domain": [-0.00448, 0.005143], "nice": false, "zero": false}},
  "fill": {"field": "k", "type": "nominal", "scale": {"domain": ["sig","macd","hist"], "range": ["#4a0000","#ff0000","#00ff00"]}, "legend": null}}},
{"data": {"name": "tagsBot"}, "mark": {"type": "text", "align": "left", "baseline": "middle", "dx": 17, "fontSize": 19.5, "font": "DejaVu Sans"},
 "encoding": {"x": {"datum": 276, "type": "quantitative", "scale": {"domain": [0, 276], "nice": false, "zero": false}},
  "y": {"field": "v", "type": "quantitative", "scale": {"domain": [-0.00448, 0.005143], "nice": false, "zero": false}},
  "text": {"field": "t", "type": "nominal"},
  "color": {"field": "k", "type": "nominal", "scale": {"domain": ["sig","macd","hist"], "range": ["#ffffff","#ffffff","#000000"]}, "legend": null}}}
]
},
{
"width": 2024, "height": 58,
"layer": [
{"data": {"name": "days"}, "transform": [{"filter": "datum.s > 0"}], "mark": {"type": "rule", "color": "#000000", "strokeWidth": 2},
 "encoding": {"x": {"field": "s", "type": "quantitative", "scale": {"domain": [0, 276], "nice": false, "zero": false}, "axis": null}}},
{"data": {"name": "days"}, "mark": {"type": "text", "align": "center", "baseline": "middle", "dy": -12, "fontSize": 19, "color": "#1b1f3b", "font": "DejaVu Sans", "text": "08:00"},
 "encoding": {"x": {"field": "e", "type": "quantitative", "scale": {"domain": [0, 276], "nice": false, "zero": false}, "axis": null}}},
{"data": {"name": "days"}, "mark": {"type": "text", "align": "center", "baseline": "middle", "dy": 15, "fontSize": 19, "color": "#1b1f3b", "font": "DejaVu Sans"},
 "encoding": {"x": {"field": "m", "type": "quantitative", "scale": {"domain": [0, 276], "nice": false, "zero": false}, "axis": null},
  "text": {"field": "d", "type": "nominal"}}},
{"data": {"values": [{}]}, "mark": {"type": "text", "align": "left", "baseline": "middle", "dy": 45, "fontSize": 18.5, "color": "#1b1f3b", "font": "DejaVu Sans", "text": "EURUSD Curncy (EUR-USD X-RATE) Graph 10"},
 "encoding": {"x": {"datum": 0.95, "type": "quantitative", "scale": {"domain": [0, 276], "nice": false, "zero": false}, "axis": null}}},
{"data": {"values": [{}]}, "mark": {"type": "text", "align": "left", "baseline": "middle", "dy": 45, "fontSize": 18.5, "color": "#1b1f3b", "font": "DejaVu Sans", "text": "90 Days 60 Minutes"},
 "encoding": {"x": {"datum": 84.1, "type": "quantitative", "scale": {"domain": [0, 276], "nice": false, "zero": false}, "axis": null}}},
{"data": {"values": [{}]}, "mark": {"type": "text", "align": "left", "baseline": "middle", "dy": 45, "fontSize": 18.5, "color": "#1b1f3b", "font": "DejaVu Sans", "text": "Copyright© 2012 Bloomberg Finance L.P."},
 "encoding": {"x": {"datum": 155.7, "type": "quantitative", "scale": {"domain": [0, 276], "nice": false, "zero": false}, "axis": null}}},
{"data": {"values": [{}]}, "mark": {"type": "text", "align": "right", "baseline": "middle", "dy": 45, "fontSize": 18.5, "color": "#1b1f3b", "font": "DejaVu Sans", "text": "27-Jan-2012 10:28:53"},
 "encoding": {"x": {"datum": 288.4, "type": "quantitative", "scale": {"domain": [0, 276], "nice": false, "zero": false}, "axis": null}}}
]
}
]
}
